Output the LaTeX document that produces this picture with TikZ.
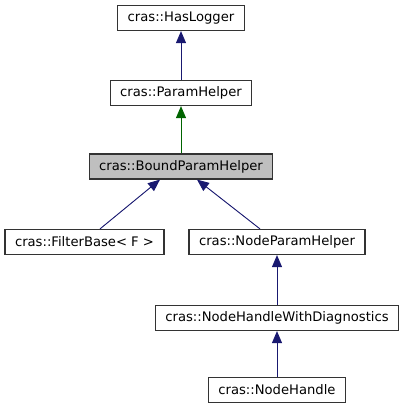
\documentclass[tikz,border=0pt]{standalone}
\usepackage{fontspec}
\setmainfont{DejaVu Sans}
\usepackage{xcolor}
\usetikzlibrary{
		calc,
		positioning,
		arrows.meta
	}
\definecolor{edgeblue}{HTML}{191970}
\definecolor{edgegreen}{HTML}{006400}
\definecolor{boxline}{HTML}{333333}
\definecolor{boxgray}{HTML}{BFBFBF}
\tikzset{
		>={Triangle[length=12bp,width=10bp]},
		classbox/.style={draw=boxline, line width=1.2bp, fill=white, minimum height=25bp, inner xsep=10bp, inner ysep=0pt,
			font=\fontsize{13.2}{15}\selectfont},
		curbox/.style={classbox, fill=boxgray},
		pubedge/.style={draw=edgeblue, fill=edgeblue, line width=0.9bp, <-},
		protedge/.style={draw=edgegreen, fill=edgegreen, line width=0.9bp, <-}
	}

\begin{document}
\begin{tikzpicture}[x=1bp,y=-1bp]
		\useasboundingbox (0,0) rectangle (403,411);
		% Classes
		\node[classbox] (logger) at (181,18) {cras::HasLogger};
		\node[classbox] (param) at (181,93) {cras::ParamHelper};
		\node[curbox] (bound) at (181,166.5) {cras::BoundParamHelper};
		\node[classbox] (filter) at (84.5,242) {cras::FilterBase< F >};
		\node[classbox] (nodeparam) at (277,242) {cras::NodeParamHelper};
		\node[classbox] (diag) at (277,318) {cras::NodeHandleWithDiagnostics};
		\node[classbox] (handle) at (277,390) {cras::NodeHandle};
		% Inheritance
		\draw[pubedge] (logger) -- (param);
		\draw[protedge] (param) -- (bound);
		\draw[pubedge] ([xshift=-21bp]bound.south) -- ([xshift=15.5bp]filter.north);
		\draw[pubedge] ([xshift=16bp]bound.south) -- ([xshift=-17bp]nodeparam.north);
		\draw[pubedge] (nodeparam) -- (diag);
		\draw[pubedge] (diag) -- (handle);
	\end{tikzpicture}
\end{document}
